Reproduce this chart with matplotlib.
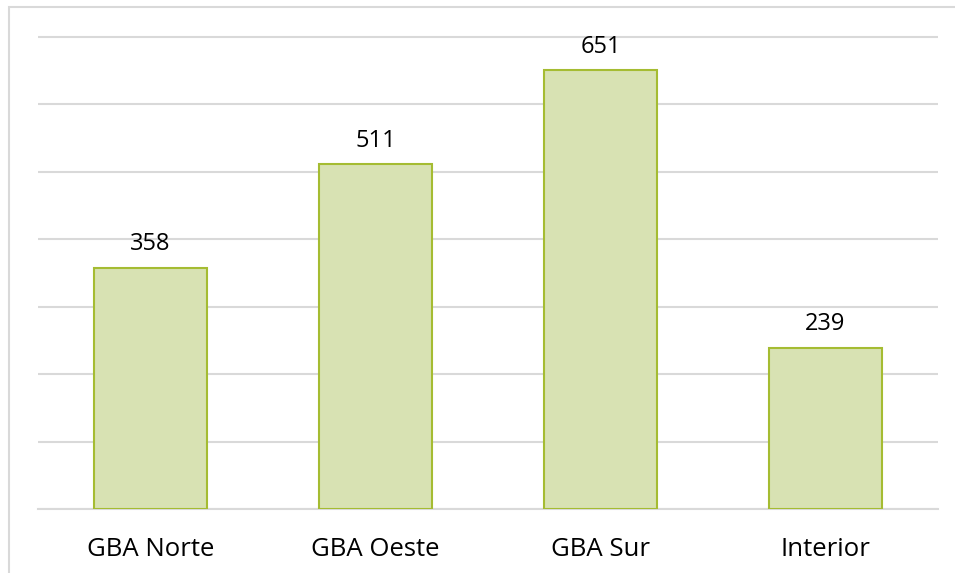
import matplotlib.pyplot as plt
from matplotlib.patches import Rectangle

regiones = ['GBA Norte', 'GBA Oeste', 'GBA Sur', 'Interior']
valores = [358, 511, 651, 239]

W, H = 955, 573
fig = plt.figure(figsize=(W / 100, H / 100), dpi=100)

# marco gris claro alrededor del grafico (cortado a la derecha y abajo)
fig.patches.append(Rectangle((9 / W, -0.1), 1.2, 1.1 - 7 / H, transform=fig.transFigure,
                             fill=False, edgecolor='#d9d9d9', linewidth=1.5))

ax = fig.add_axes([38 / W, 1 - 509 / H, 900 / W, (509 - 33) / H])
x = range(len(regiones))
ax.bar(x, valores, width=0.5, color='#d8e2b3', edgecolor='#a5bc32', linewidth=1.5, zorder=3)

for i, v in zip(x, valores):
    ax.text(i, v + 17, str(v), ha='center', va='bottom', fontsize=17,
            family='Open Sans', color='#000000')

ax.set_xlim(-0.5, len(regiones) - 0.5)
ax.set_ylim(0, 700 * 476 / 472)
ax.set_yticks(range(0, 701, 100))
ax.yaxis.grid(True, color='#d9d9d9', linewidth=1.5, zorder=0)
ax.tick_params(axis='y', length=0, labelleft=False)
ax.set_xticks(list(x))
ax.set_xticklabels(regiones, fontsize=18.5, family='Open Sans')
ax.tick_params(axis='x', length=0, pad=20)
for s in ['top', 'right', 'left']:
    ax.spines[s].set_visible(False)
ax.spines['bottom'].set_color('#d9d9d9')
ax.spines['bottom'].set_linewidth(1.5)

fig.savefig('out.png', dpi=100)
